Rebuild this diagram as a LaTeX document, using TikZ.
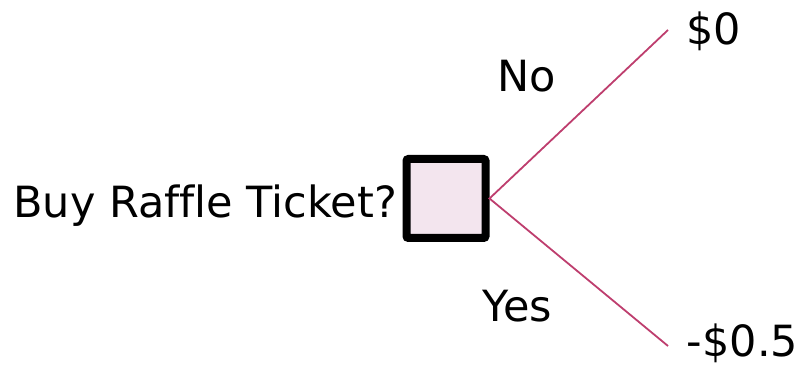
\documentclass[tikz,border=0pt]{standalone}
\usepackage{fontspec}
\setmainfont{DejaVu Sans}[Ligatures=NoCommon]
\definecolor{branch}{RGB}{190,62,110}
\definecolor{boxfill}{RGB}{243,229,238}
\begin{document}
\begin{tikzpicture}[x=1pt,y=1pt,
  decision/.style={draw=black, line width=8pt, fill=boxfill, rounded corners=2pt,
    minimum size=79pt, inner sep=0pt},
  branchline/.style={draw=branch, line width=1.8pt},
  lbl/.style={inner sep=0pt, font=\fontsize{43}{50}\selectfont}]
  \useasboundingbox (0,0) rectangle (801,366);
  % decision node
  \node[decision] (dec) at (446,167.5) {};
  \node[lbl, anchor=base east] (question) at (397,148) {Buy Raffle Ticket?};
  % branch end points
  \coordinate (noend) at (668,336);
  \coordinate (yesend) at (668,20);
  \draw[branchline] (noend) -- (dec.east) -- (yesend);
  % branch labels and payoffs
  \node[lbl, anchor=base] (no) at (527,274) {No};
  \node[lbl, anchor=base] (yes) at (517.5,44) {Yes};
  \node[lbl, anchor=base] (pay0) at (714,321) {\$0};
  \node[lbl, anchor=base] (pay1) at (742.5,9) {-\$0.5};
\end{tikzpicture}
\end{document}
